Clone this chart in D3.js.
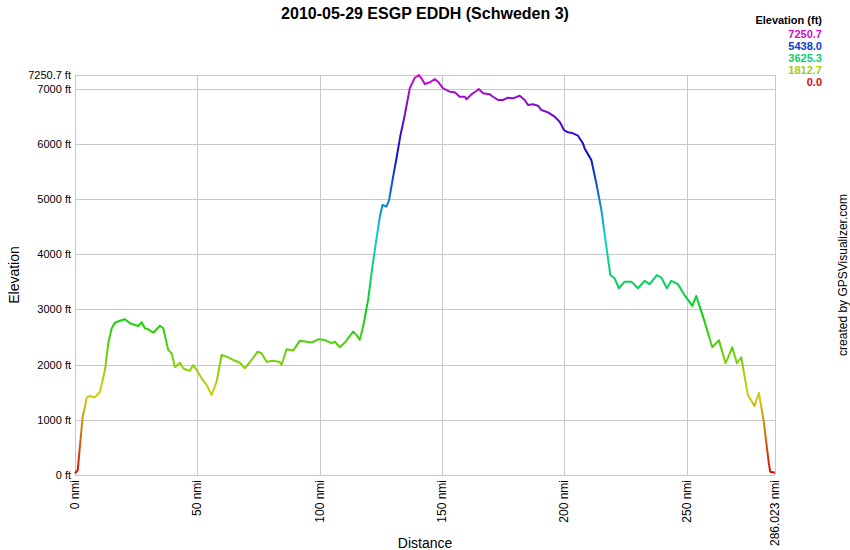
<!DOCTYPE html>
<html>
<head>
<meta charset="utf-8">
<script src="https://cdn.jsdelivr.net/npm/d3@7"></script>
<style>
  body { margin: 0; background: #fff; }
  svg text { font-family: "Liberation Sans", Arial, sans-serif; fill: #000; }
</style>
</head>
<body>
<div id="chart"></div>
<script>
// track profile (nmi / ft)
var distances = [0, 1.1, 3.14, 4.08, 4.78, 6.12, 8.17, 10.21, 12.25, 13.6, 14.99, 16.33, 18.37, 20.42, 22.46, 24.5,
  25.85, 27.24, 28.58, 29.93, 31.97, 34.71, 36.06, 38.1, 39.49, 40.83, 42.87, 44.22, 45.61, 46.96, 48.31, 49.69,
  51.74, 53.78, 55.82, 57.86, 59.9, 61.94, 64.64, 67.37, 69.42, 72.15, 74.6, 76.23, 78.28, 80.97, 83.71, 84.4,
  86.44, 89.14, 91.87, 94.61, 96.65, 99.35, 102.08, 104.82, 106.17, 108.21, 110.25, 113.64, 115.03, 116.37, 117.72,
  119.76, 121.15, 122.5, 124.54, 125.64, 127.28, 128.34, 129.97, 131.36, 132.99, 134.75, 136.79, 138.83, 140.47,
  141.57, 142.92, 144.96, 147.0, 148.35, 150.39, 153.12, 155.17, 157.21, 159.25, 159.94, 161.98, 164.03, 164.97,
  166.72, 169.46, 170.8, 172.85, 174.89, 176.93, 178.97, 181.71, 183.75, 185.1, 187.14, 189.18, 190.57, 193.26,
  196.0, 198.04, 199.8, 201.43, 203.47, 205.51, 207.55, 208.25, 210.98, 213.03, 215.07, 217.11, 218.74, 220.5,
  222.26, 224.58, 227.32, 230.01, 232.75, 234.79, 237.77, 239.57, 241.85, 243.65, 246.35, 249.08, 252.22, 253.86,
  257.25, 260.39, 263.09, 265.82, 268.56, 270.44, 272.24, 274.93, 277.67, 279.42, 281.34, 283.5, 284.07, 286.023];
var elevations = [30, 90, 1060, 1238, 1408, 1432, 1408, 1510, 1903, 2387, 2659, 2760, 2797, 2822, 2750, 2719,
  2701, 2768, 2659, 2641, 2579, 2706, 2659, 2266, 2206, 1952, 2035, 1934, 1903, 1890, 1994, 1903,
  1753, 1631, 1450, 1691, 2175, 2145, 2085, 2035, 1934, 2085, 2235, 2206, 2054, 2072, 2050, 1995,
  2280, 2255, 2435, 2415, 2400, 2460, 2445, 2390, 2415, 2315, 2400, 2600, 2540, 2450, 2690,
  3170, 3655, 4080, 4680, 4895, 4865, 4985, 5405, 5740, 6160, 6525, 7009, 7201, 7250.7,
  7190, 7087, 7118, 7178, 7129, 7009, 6948, 6937, 6857, 6857, 6810, 6900, 6960, 6997,
  6919, 6900, 6857, 6797, 6797, 6839, 6828, 6875, 6797, 6707, 6719, 6694, 6616, 6574,
  6495, 6404, 6253, 6212, 6194, 6150, 6012, 5920, 5710, 5285, 4805, 4140, 3625, 3565,
  3385, 3505, 3505, 3385, 3520, 3460, 3625, 3580, 3385, 3520, 3460, 3260, 3065, 3245,
  2780, 2315, 2445, 2025, 2315, 2025, 2135, 1450, 1250, 1490, 1000, 210, 60, 40];

var yTicks = [0, 1000, 2000, 3000, 4000, 5000, 6000, 7000, 7250.7];
var xTicks = [0, 50, 100, 150, 200, 250, 286.023];
var legendValues = [7250.7, 5438.0, 3625.3, 1812.7, 0.0];

var W = 850, H = 550;
var margin = { top: 75, right: 75, bottom: 75, left: 75 };
var maxEl = 7250.7, maxDist = 286.023;

var x = d3.scaleLinear().domain([0, maxDist]).range([margin.left, W - margin.right]);
var y = d3.scaleLinear().domain([0, maxEl]).range([H - margin.bottom, margin.top]);

// elevation -> colour (red .. yellow .. green .. blue .. magenta)
var hue = d3.scaleLinear().domain([0, maxEl]).range([0, 300]);
function elColor(v) { return d3.hsl(hue(v), 0.9, 0.43).formatHex(); }

var svg = d3.select("#chart").append("svg")
  .attr("width", W)
  .attr("height", H);

var grad = svg.append("defs").append("linearGradient")
  .attr("id", "elevGrad")
  .attr("gradientUnits", "userSpaceOnUse")
  .attr("x1", 0).attr("x2", 0)
  .attr("y1", y(0)).attr("y2", y(maxEl));
d3.range(0, 21).forEach(function(i) {
  var v = maxEl * i / 20;
  grad.append("stop").attr("offset", (i * 5) + "%").attr("stop-color", elColor(v));
});

// grid
svg.append("g").selectAll("line")
  .data(yTicks)
  .enter().append("line")
    .attr("x1", x(0)).attr("x2", x(maxDist))
    .attr("y1", function(d) { return Math.round(y(d)) + 0.5; })
    .attr("y2", function(d) { return Math.round(y(d)) + 0.5; })
    .style("stroke", "#c8c8c8");
svg.append("g").selectAll("line")
  .data(xTicks)
  .enter().append("line")
    .attr("x1", function(d) { return Math.round(x(d)) + 0.5; })
    .attr("x2", function(d) { return Math.round(x(d)) + 0.5; })
    .attr("y1", y(maxEl)).attr("y2", y(0))
    .style("stroke", "#c8c8c8");

// y labels
svg.append("g").selectAll("text")
  .data(yTicks)
  .enter().append("text")
    .attr("x", margin.left - 4)
    .attr("y", function(d) { return y(d) + 4; })
    .attr("text-anchor", "end")
    .style("font-size", "11px")
    .text(function(d) { return d + " ft"; });

// x labels (rotated)
svg.append("g").selectAll("text")
  .data(xTicks)
  .enter().append("text")
    .attr("transform", function(d) { return "translate(" + (x(d) + 4) + "," + (y(0) + 5) + ") rotate(-90)"; })
    .attr("text-anchor", "end")
    .style("font-size", "12px")
    .text(function(d) { return d + " nmi"; });

// profile
var line = d3.line()
  .x(function(d, i) { return x(distances[i]); })
  .y(function(d) { return y(d); });
svg.append("path")
  .datum(elevations)
  .attr("d", line)
  .style("fill", "none")
  .style("stroke", "url(#elevGrad)")
  .style("stroke-width", 2)
  .style("stroke-linejoin", "round");

// titles
svg.append("text")
  .attr("x", W / 2).attr("y", 19)
  .attr("text-anchor", "middle")
  .style("font-size", "16px").style("font-weight", "bold")
  .text("2010-05-29 ESGP EDDH (Schweden 3)");
svg.append("text")
  .attr("x", W / 2).attr("y", 548)
  .attr("text-anchor", "middle")
  .style("font-size", "14px")
  .text("Distance");
svg.append("text")
  .attr("transform", "translate(19," + ((y(0) + y(maxEl)) / 2) + ") rotate(-90)")
  .attr("text-anchor", "middle")
  .style("font-size", "14px")
  .text("Elevation");
svg.append("text")
  .attr("transform", "translate(847,275) rotate(-90)")
  .attr("text-anchor", "middle")
  .style("font-size", "12px")
  .text("created by GPSVisualizer.com");

// legend
svg.append("text")
  .attr("x", 822).attr("y", 24)
  .attr("text-anchor", "end")
  .style("font-size", "11px").style("font-weight", "bold")
  .text("Elevation (ft)");
svg.append("g").selectAll("text")
  .data(legendValues)
  .enter().append("text")
    .attr("x", 822)
    .attr("y", function(d, i) { return 38 + i * 12; })
    .attr("text-anchor", "end")
    .style("font-size", "11px").style("font-weight", "bold")
    .style("fill", function(d) { return elColor(d); })
    .text(function(d) { return d.toFixed(1); });
</script>
</body>
</html>
